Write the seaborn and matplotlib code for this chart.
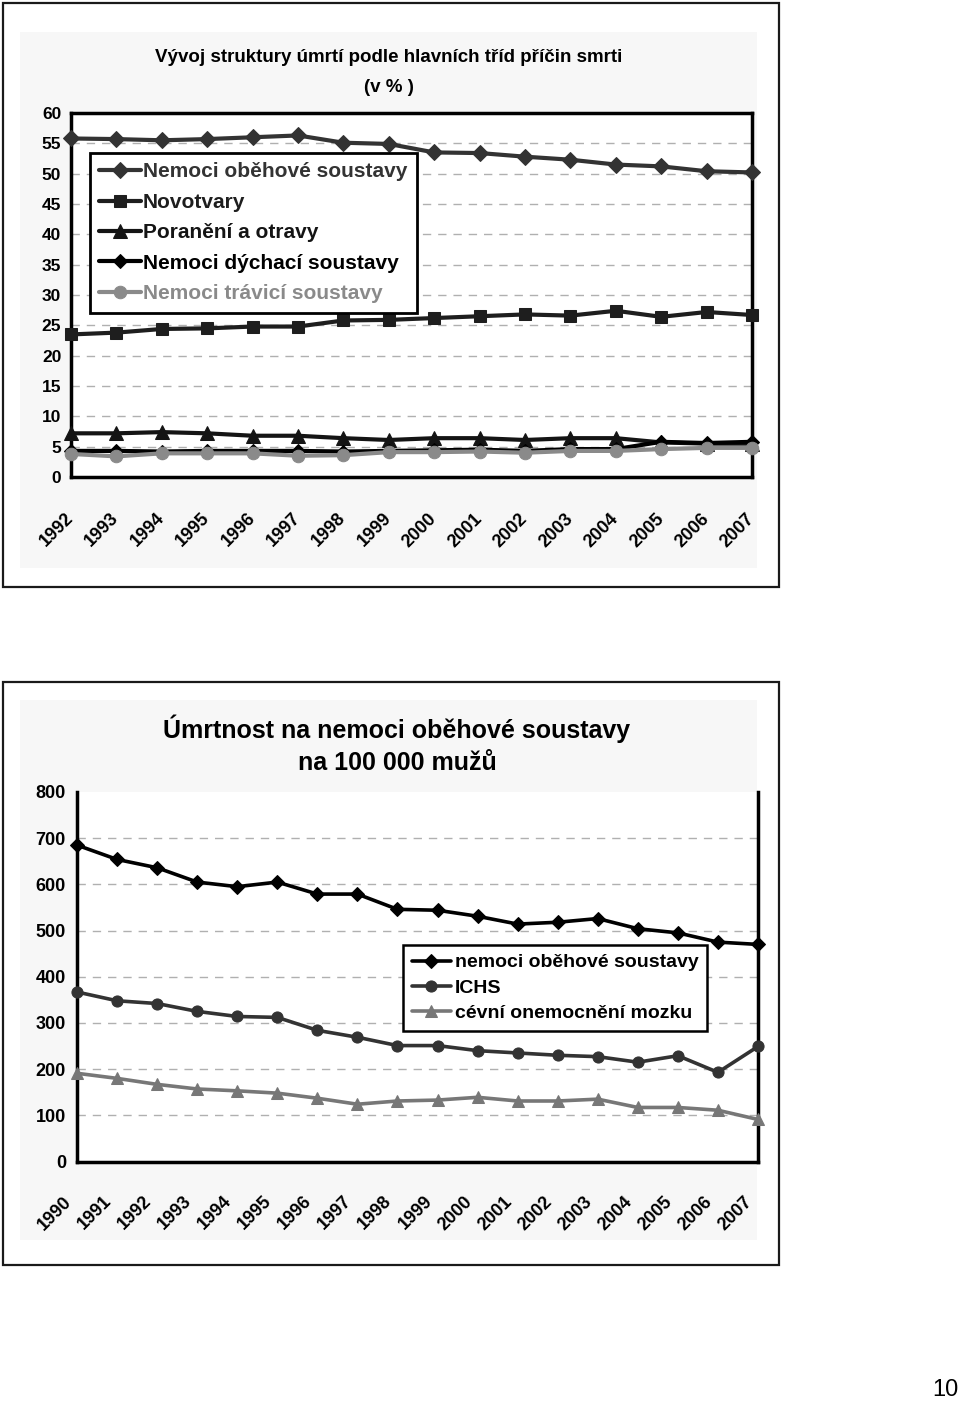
import matplotlib
matplotlib.use("Agg")
import matplotlib.pyplot as plt
import matplotlib.font_manager as fm
import matplotlib.transforms as mtrans
from matplotlib.patches import Rectangle
import seaborn as sns
import pandas as pd

# ---------------- data ----------------
years_top = list(range(1992, 2008))
obehove_pct = [55.8, 55.7, 55.5, 55.7, 56.0, 56.3, 55.1, 54.9, 53.5, 53.4, 52.8, 52.3, 51.5, 51.2, 50.4, 50.2]
novotvary_pct = [23.5, 23.8, 24.4, 24.5, 24.8, 24.8, 25.8, 25.9, 26.2, 26.5, 26.8, 26.6, 27.4, 26.4, 27.2, 26.7]
poraneni_pct = [7.2, 7.2, 7.4, 7.2, 6.8, 6.8, 6.4, 6.1, 6.4, 6.4, 6.1, 6.4, 6.4, 5.7, 5.5, 5.5]
dychaci_pct = [4.3, 4.3, 4.2, 4.3, 4.3, 4.3, 4.2, 4.3, 4.4, 4.5, 4.3, 4.6, 4.6, 5.8, 5.6, 5.8]
traveni_pct = [3.8, 3.4, 3.9, 3.9, 3.9, 3.5, 3.6, 4.1, 4.1, 4.2, 4.0, 4.3, 4.3, 4.6, 4.8, 4.8]
top_labels = ["Nemoci oběhové soustavy", "Novotvary", "Poranění a otravy",
              "Nemoci dýchací soustavy", "Nemoci trávicí soustavy"]
top_title = "Vývoj struktury úmrtí podle hlavních tříd příčin smrti\n(v % )"

years_bot = list(range(1990, 2008))
obehove_muzi = [685, 654, 636, 605, 595, 605, 579, 579, 546, 544, 531, 514, 518, 526, 504, 495, 475, 470]
ichs_muzi = [367, 348, 342, 325, 314, 312, 284, 269, 251, 251, 240, 235, 230, 227, 215, 229, 193, 249]
cevni_muzi = [191, 180, 167, 157, 153, 148, 137, 124, 131, 133, 139, 131, 131, 135, 117, 117, 111, 91]
bot_labels = ["nemoci oběhové soustavy", "ICHS", "cévní onemocnění mozku"]
bot_title = "Úmrtnost na nemoci oběhové soustavy\nna 100 000 mužů"
page_number = "10"

# ---------------- fonts ----------------
sns.set_theme(style="white")
def has_font(name):
    try:
        fm.findfont(fm.FontProperties(family=name), fallback_to_default=False)
        return True
    except Exception:
        return False
NARROW = "Liberation Sans Narrow" if has_font("Liberation Sans Narrow") else "Liberation Sans"
plt.rcParams["font.family"] = ["Liberation Sans", "DejaVu Sans"]
plt.rcParams["text.color"] = "black"
plt.rcParams["xtick.color"] = "black"
plt.rcParams["ytick.color"] = "black"
plt.rcParams["xtick.labelcolor"] = "black"
plt.rcParams["ytick.labelcolor"] = "black"

W, H = 960, 1401
fig = plt.figure(figsize=(W / 100, H / 100), dpi=100)
fig.patch.set_facecolor("white")

def fr(x0, y0, x1, y1):
    return [x0 / W, 1 - y1 / H, (x1 - x0) / W, (y1 - y0) / H]

def rect(x0, y0, x1, y1, **kw):
    fig.add_artist(Rectangle((x0 / W, 1 - y1 / H), (x1 - x0) / W, (y1 - y0) / H,
                             transform=fig.transFigure, zorder=-10, **kw))

# frames and grey panels
rect(3, 3, 779, 587, fill=False, edgecolor="#1a1a1a", lw=1.6)
rect(20, 32, 757, 568, facecolor="#f7f7f7", edgecolor="none")
rect(3, 682, 779, 1265, fill=False, edgecolor="#1a1a1a", lw=1.6)
rect(20, 700, 757, 1240, facecolor="#f7f7f7", edgecolor="none")

# ================= top chart =================
ax1 = fig.add_axes(fr(71, 113, 752, 477))
ax1.set_facecolor("white")
top_df = pd.DataFrame({"rok": years_top, "s0": obehove_pct, "s1": novotvary_pct,
                       "s2": poraneni_pct, "s3": dychaci_pct, "s4": traveni_pct})
top_styles = [
    ("s0", "#333333", "D", 8.5),
    ("s1", "#1e1e1e", "s", 9),
    ("s2", "#141414", "^", 10),
    ("s3", "#000000", "D", 7),
    ("s4", "#8a8a8a", "o", 9),
]
for (col, c, m, ms), lab in zip(top_styles, top_labels):
    sns.lineplot(data=top_df, x="rok", y=col, ax=ax1, color=c, marker=m, markersize=ms,
                 markeredgecolor=c, linewidth=3.0, label=lab, clip_on=False, zorder=3)
ax1.set_xlim(1992, 2007)
ax1.set_ylim(0, 60)
ax1.set_yticks(range(0, 61, 5))
ax1.set_xticks(years_top)
ax1.set_xlabel("")
ax1.set_ylabel("")
for y in range(5, 60, 5):
    ax1.axhline(y, color="#b0b0b0", lw=1.0, ls=(0, (6, 5)), zorder=1)
for sp in ax1.spines.values():
    sp.set_visible(True)
    sp.set_color("black")
    sp.set_linewidth(2.5)
ax1.tick_params(axis="y", direction="out", length=5, width=2, color="black", pad=2)
ax1.tick_params(axis="x", direction="out", length=6, width=2, color="black", pad=22)
for t in ax1.get_yticklabels():
    t.set_fontfamily(NARROW)
    t.set_fontweight("bold")
    t.set_fontsize(12.5)
for t in ax1.get_xticklabels():
    t.set_fontweight("bold")
    t.set_fontsize(13)
    t.set_rotation(45)
    t.set_ha("right")
    t.set_va("center")
    t.set_rotation_mode("anchor")
leg1 = ax1.legend(loc="upper left", bbox_to_anchor=(90 / W, 1 - 153 / H),
                  bbox_transform=fig.transFigure, frameon=True, fancybox=False,
                  borderpad=0.45, labelspacing=0.55, handlelength=2.0, handletextpad=0.1,
                  borderaxespad=0, prop=fm.FontProperties(family=NARROW, weight="bold", size=15))
leg1.get_frame().set_edgecolor("black")
leg1.get_frame().set_linewidth(2.0)
leg1.get_frame().set_facecolor("white")
leg1.get_frame().set_alpha(1)
for txt, (_, c, _, _) in zip(leg1.get_texts(), top_styles):
    txt.set_color(c)
fig.text(389 / W, 1 - 57 / H, top_title.split("\n")[0], ha="center", va="center",
         fontsize=13.5, fontweight="bold", family=NARROW)
fig.text(389 / W, 1 - 88 / H, top_title.split("\n")[1], ha="center", va="center",
         fontsize=13.5, fontweight="bold", family=NARROW)

# ================= bottom chart =================
ax2 = fig.add_axes(fr(77, 792, 758, 1161.5))
ax2.set_facecolor("white")
bot_df = pd.DataFrame({"rok": years_bot, "b0": obehove_muzi, "b1": ichs_muzi, "b2": cevni_muzi})
bot_styles = [
    ("b0", "#000000", "D", 7),
    ("b1", "#333333", "o", 8),
    ("b2", "#777777", "^", 9),
]
for (col, c, m, ms), lab in zip(bot_styles, bot_labels):
    sns.lineplot(data=bot_df, x="rok", y=col, ax=ax2, color=c, marker=m, markersize=ms,
                 markeredgecolor=c, linewidth=2.6, label=lab, clip_on=False, zorder=3)
ax2.set_xlim(1990, 2007)
ax2.set_ylim(0, 800)
ax2.set_yticks(range(0, 801, 100))
ax2.set_xticks(years_bot)
ax2.set_xlabel("")
ax2.set_ylabel("")
for y in range(100, 800, 100):
    ax2.axhline(y, color="#b0b0b0", lw=1.0, ls=(0, (6, 5)), zorder=1)
ax2.spines["top"].set_visible(False)
for k in ["left", "bottom", "right"]:
    ax2.spines[k].set_visible(True)
    ax2.spines[k].set_color("black")
    ax2.spines[k].set_linewidth(2.5)
ax2.tick_params(axis="y", direction="out", length=5, width=1.5, color="black", pad=3)
ax2.tick_params(axis="x", direction="out", length=5, width=1.2, color="#888888", pad=22)
for t in ax2.get_yticklabels():
    t.set_fontweight("bold")
    t.set_fontsize(13)
off = mtrans.ScaledTranslation(-8 / 100, 0, fig.dpi_scale_trans)
for t in ax2.get_xticklabels():
    t.set_fontweight("bold")
    t.set_fontsize(13)
    t.set_rotation(45)
    t.set_ha("right")
    t.set_va("center")
    t.set_rotation_mode("anchor")
    t.set_transform(t.get_transform() + off)
leg2 = ax2.legend(loc="upper left", bbox_to_anchor=(403 / W, 1 - 945 / H),
                  bbox_transform=fig.transFigure, frameon=True, fancybox=False,
                  borderpad=0.45, labelspacing=0.4, handlelength=2.0, handletextpad=0.2,
                  borderaxespad=0, prop=fm.FontProperties(family="Liberation Sans",
                                                          weight="bold", size=14))
leg2.get_frame().set_edgecolor("black")
leg2.get_frame().set_linewidth(1.8)
leg2.get_frame().set_facecolor("white")
leg2.get_frame().set_alpha(1)
for txt in leg2.get_texts():
    txt.set_color("black")
fig.text(397 / W, 1 - 729 / H, bot_title.split("\n")[0], ha="center", va="center",
         fontsize=18, fontweight="bold")
fig.text(397 / W, 1 - 763 / H, bot_title.split("\n")[1], ha="center", va="center",
         fontsize=18, fontweight="bold")

fig.text(945 / W, 1 - 1390 / H, page_number, ha="center", va="center", fontsize=17)

fig.savefig("out.png", dpi=100)
